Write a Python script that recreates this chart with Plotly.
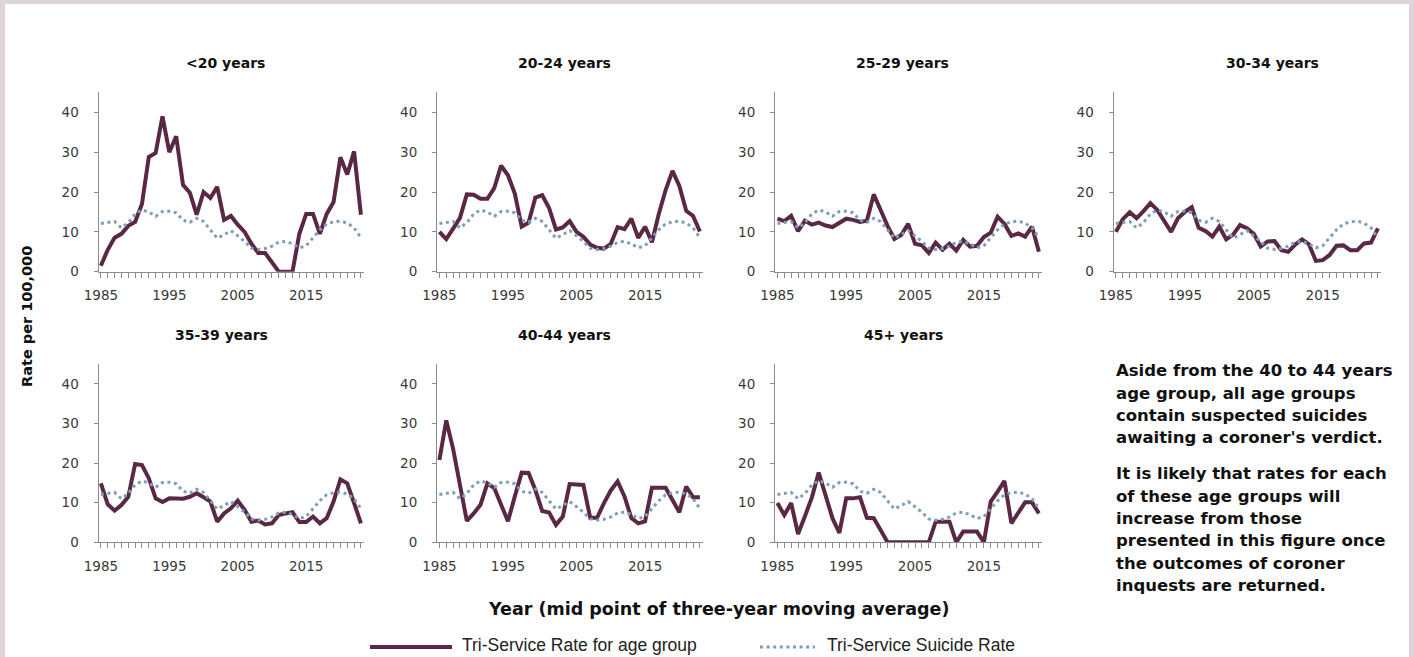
import plotly.graph_objects as go

years = list(range(1985, 2024))

tri_service = [12.1, 12.4, 12.6, 11.0, 12.3, 14.5, 15.5, 15.0, 13.9, 15.1,
               15.2, 14.8, 12.9, 12.4, 13.4, 12.6, 10.4, 8.4, 9.3, 10.3,
               9.0, 7.6, 5.9, 5.6, 5.8, 6.4, 7.4, 7.6, 7.0, 6.0,
               6.5, 8.5, 10.5, 12.0, 12.5, 12.7, 12.2, 11.0, 8.5]

rate_u20 = [1.5, 5.5, 8.5, 9.5, 11.5, 12.5, 17.0, 28.8, 29.8, 39.0,
            30.0, 34.0, 21.8, 19.8, 14.3, 20.0, 18.5, 21.3, 13.0, 14.0,
            11.8, 10.0, 7.0, 4.7, 4.7, 2.5, 0.0, 0.0, 0.0, 9.5,
            14.5, 14.5, 9.5, 14.5, 17.5, 28.7, 24.4, 30.2, 14.3]
rate_20_24 = [10.0, 8.2, 10.8, 13.5, 19.4, 19.3, 18.3, 18.3, 21.0, 26.6,
              24.2, 19.6, 11.3, 12.3, 18.6, 19.2, 16.0, 10.6, 11.1, 12.7,
              10.0, 8.8, 6.8, 6.0, 5.8, 7.0, 11.2, 10.7, 13.3, 8.5,
              11.3, 7.4, 14.5, 20.5, 25.3, 21.5, 15.3, 14.0, 10.1]
rate_25_29 = [13.3, 12.7, 14.0, 10.2, 12.8, 11.8, 12.3, 11.6, 11.2, 12.3,
              13.3, 13.0, 12.5, 12.8, 19.4, 15.5, 11.5, 8.2, 9.2, 12.0,
              7.0, 6.6, 4.7, 7.3, 5.5, 7.0, 5.3, 8.0, 6.3, 6.5,
              8.7, 9.8, 13.8, 12.0, 9.0, 9.6, 8.8, 11.3, 5.0]
rate_30_34 = [10.0, 13.2, 14.9, 13.4, 15.2, 17.2, 15.5, 12.8, 10.0, 13.4,
              15.0, 16.2, 11.0, 10.2, 8.8, 11.3, 8.1, 9.3, 11.7, 10.9,
              9.5, 6.3, 7.6, 7.7, 5.4, 5.0, 6.8, 8.1, 6.9, 2.7,
              2.9, 4.2, 6.5, 6.6, 5.4, 5.4, 7.1, 7.3, 10.9]
rate_35_39 = [14.9, 9.6, 8.0, 9.4, 11.5, 19.8, 19.5, 16.2, 11.1, 10.2,
              11.1, 11.1, 11.0, 11.5, 12.4, 11.4, 10.3, 5.2, 7.3, 8.6,
              10.5, 8.2, 5.2, 5.5, 4.5, 4.8, 6.9, 7.3, 7.6, 5.1,
              5.1, 6.5, 4.8, 6.1, 10.3, 15.9, 14.9, 9.9, 4.8]
rate_40_44 = [20.8, 30.8, 23.6, 14.0, 5.4, 7.3, 9.5, 14.9, 13.7, 9.5,
              5.3, 11.6, 17.6, 17.5, 13.2, 7.9, 7.5, 4.4, 6.5, 14.7,
              14.5, 14.5, 6.2, 6.2, 9.9, 13.1, 15.4, 11.6, 6.1, 4.8,
              5.3, 13.8, 13.8, 13.8, 10.7, 7.6, 14.1, 11.4, 11.4]
rate_45p = [9.9, 6.9, 9.9, 2.1, 6.6, 11.3, 17.6, 12.2, 6.1, 2.4,
            11.1, 11.1, 11.4, 6.2, 6.1, 3.1, 0.0, 0.0, 0.0, 0.0,
            0.0, 0.0, 0.0, 5.2, 5.2, 5.2, 0.0, 2.7, 2.7, 2.7,
            0.0, 10.3, 12.8, 15.5, 4.8, 7.3, 10.1, 10.1, 7.3]

panel_titles = ["<20 years", "20-24 years", "25-29 years", "30-34 years",
                "35-39 years", "40-44 years", "45+ years"]
panel_series = [rate_u20, rate_20_24, rate_25_29, rate_30_34,
                rate_35_39, rate_40_44, rate_45p]
x_tick_labels = [1985, 1995, 2005, 2015]
y_tick_values = [0, 10, 20, 30, 40]

series_names = ["Tri-Service Rate for age group", "Tri-Service Suicide Rate"]

note_lines = ["Aside from the 40 to 44 years", "age group, all age groups",
              "contain suspected suicides", "awaiting a coroner's verdict.",
              "It is likely that rates for each", "of these age groups will",
              "increase from those", "presented in this figure once",
              "the outcomes of coroner", "inquests are returned."]

# ---------------- layout / style ----------------
W, H = 1414, 657
SOLID = "#5A2844"
DOTTED = "#7F9EB5"
AXIS = "#8C8C8C"
TICKFONT = dict(family="DejaVu Sans", size=13.5, color="#3A3A3A")

col_px = [(98.5, 364), (437, 703), (775, 1042), (1113.5, 1381)]
row_px = [(92.4, 271.7), (364.2, 542.3)]
title_px = [(225, 63), (564, 63), (902, 63), (1272, 63),
            (221, 335), (564, 335), (903, 335)]
cells = [(0, 0), (0, 1), (0, 2), (0, 3), (1, 0), (1, 1), (1, 2)]

fig = go.Figure()
annotations = []
for i, (title, vals) in enumerate(zip(panel_titles, panel_series)):
    k = i + 1
    xa = "x" if k == 1 else f"x{k}"
    ya = "y" if k == 1 else f"y{k}"
    r, c = cells[i]
    x0, x1 = col_px[c]
    y0, y1 = row_px[r]
    fig.add_trace(go.Scatter(x=years, y=vals, mode="lines", name=series_names[0],
                             line=dict(color=SOLID, width=4),
                             xaxis=xa, yaxis=ya, showlegend=False))
    fig.add_trace(go.Scatter(x=years, y=tri_service, mode="lines", name=series_names[1],
                             line=dict(color=DOTTED, width=3, dash="3px,3.6px"),
                             xaxis=xa, yaxis=ya, showlegend=False))
    xkey = "xaxis" if k == 1 else f"xaxis{k}"
    ykey = "yaxis" if k == 1 else f"yaxis{k}"
    fig.layout[xkey] = dict(
        domain=[x0 / W, x1 / W], anchor=ya, range=[1984.65, 2023.45],
        tickmode="array", tickvals=x_tick_labels, ticktext=[str(v) for v in x_tick_labels],
        ticks="outside", ticklen=5, tickcolor=AXIS, tickwidth=1,
        minor=dict(dtick=1, tick0=1985, ticks="outside", ticklen=5, tickcolor=AXIS, tickwidth=1),
        showline=True, linecolor=AXIS, linewidth=1, showgrid=False, zeroline=False,
        tickfont=TICKFONT, ticklabelstandoff=6, fixedrange=True)
    fig.layout[ykey] = dict(
        domain=[1 - y1 / H, 1 - y0 / H], anchor=xa, range=[0, 45],
        tickmode="array", tickvals=y_tick_values,
        ticks="outside", ticklen=4, tickcolor=AXIS, tickwidth=1,
        showline=True, linecolor=AXIS, linewidth=1, showgrid=False, zeroline=False,
        tickfont=TICKFONT, ticklabelstandoff=12, fixedrange=True)
    tx, ty = title_px[i]
    annotations.append(dict(text=f"<b>{title}</b>", x=tx / W, y=1 - ty / H,
                            xref="paper", yref="paper", showarrow=False,
                            xanchor="center", yanchor="middle",
                            font=dict(family="DejaVu Sans", size=14, color="#111111")))

# axis titles
annotations.append(dict(text="<b>Rate per 100,000</b>", x=27 / W, y=1 - 317 / H,
                        xref="paper", yref="paper", showarrow=False, textangle=-90,
                        xanchor="center", yanchor="middle",
                        font=dict(family="DejaVu Sans", size=14.5, color="#111111")))
annotations.append(dict(text="<b>Year (mid point of three-year moving average)</b>",
                        x=718 / W, y=1 - 609 / H, xref="paper", yref="paper",
                        showarrow=False, xanchor="center", yanchor="middle",
                        font=dict(family="DejaVu Sans", size=17.5, color="#111111")))

# note text
note_y = [370, 393, 415, 437, 473, 496, 518, 540, 563, 585]
for line, yy in zip(note_lines, note_y):
    annotations.append(dict(text=f"<b>{line}</b>", x=1114 / W, y=1 - yy / H,
                            xref="paper", yref="paper", showarrow=False,
                            xanchor="left", yanchor="middle",
                            font=dict(family="DejaVu Sans", size=16.5, color="#111111")))

# custom legend
leg_y = 645
for name, lx in zip(series_names, [460, 825]):
    annotations.append(dict(text=name, x=lx / W, y=1 - leg_y / H,
                            xref="paper", yref="paper", showarrow=False,
                            xanchor="left", yanchor="middle",
                            font=dict(family="Liberation Sans", size=17.5, color="#222222")))

shapes = [
    dict(type="rect", xref="paper", yref="paper", x0=5 / W, x1=1409 / W, y0=-0.01, y1=1 - 4 / H,
         fillcolor="white", line=dict(width=0), layer="below"),
    dict(type="line", xref="paper", yref="paper", x0=370 / W, x1=452 / W,
         y0=1 - 647 / H, y1=1 - 647 / H, line=dict(color=SOLID, width=4)),
    dict(type="line", xref="paper", yref="paper", x0=760 / W, x1=815 / W,
         y0=1 - 647 / H, y1=1 - 647 / H, line=dict(color=DOTTED, width=3, dash="3px,3.6px")),
]

fig.update_layout(width=W, height=H, margin=dict(l=0, r=0, t=0, b=0, autoexpand=False),
                  paper_bgcolor="#DDD5DB", plot_bgcolor="rgba(0,0,0,0)",
                  showlegend=False, annotations=annotations, shapes=shapes)

fig.write_html("out.html", config={"displayModeBar": False},
               post_script="document.body.style.margin='0px';document.body.style.overflow='hidden';")
